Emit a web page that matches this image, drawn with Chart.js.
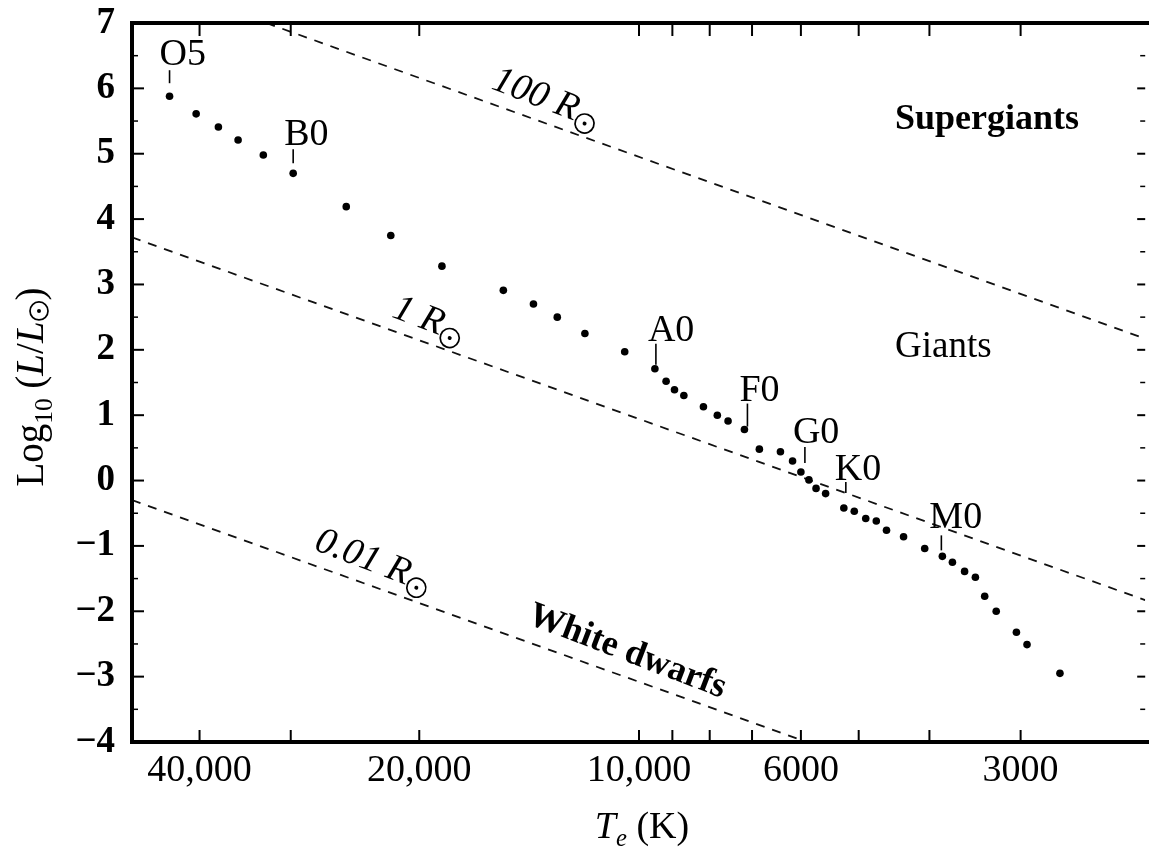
<!DOCTYPE html>
<html><head><meta charset="utf-8">
<script src="https://cdn.jsdelivr.net/npm/chart.js@4.4.1/dist/chart.umd.min.js"></script>
<style>html,body{margin:0;padding:0;background:#fff;overflow:hidden}#wrap{position:relative;width:1149px;height:849px}</style>
</head><body><div id="wrap"><canvas id="c"></canvas></div>
<script>
// Main-sequence stars: effective temperature (K) and log10(L/Lsun)
const temperatures = [43970, 40430, 37690, 35420, 32710, 29770, 25180, 21880, 18620, 15340, 13950, 12940, 11860, 10460, 9510, 9180, 8940, 8680, 8160, 7810, 7550, 7170, 6840, 6400, 6160, 6000, 5850, 5720, 5550, 5240, 5070, 4890, 4730, 4580, 4340, 4060, 3840, 3720, 3580, 3460, 3360, 3240, 3040, 2940, 2650];
const logLuminosity = [5.88, 5.61, 5.41, 5.21, 4.98, 4.70, 4.19, 3.75, 3.28, 2.91, 2.70, 2.50, 2.25, 1.97, 1.71, 1.52, 1.39, 1.30, 1.13, 1.00, 0.91, 0.78, 0.48, 0.44, 0.30, 0.13, 0.01, -0.12, -0.20, -0.42, -0.47, -0.58, -0.62, -0.76, -0.86, -1.04, -1.16, -1.25, -1.39, -1.48, -1.77, -2.00, -2.32, -2.51, -2.95];

// Spectral class markers (index into the star arrays)
const spectralLabels = ['O5', 'B0', 'A0', 'F0', 'G0', 'K0', 'M0'];
const spectralIndex = [0, 5, 14, 21, 25, 29, 36];

// Constant-radius lines (end points)
const line100R_T = [32400, 2025];
const line100R_L = [7.0, 2.17];
const line1R_T = [49500, 2025];
const line1R_L = [3.72, -1.83];
const line001R_T = [49500, 5890];
const line001R_L = [-0.30, -4.0];

// Axis ticks
const xTickValues = [40000, 30000, 20000, 10000, 9000, 8000, 7000, 6000, 5000, 4000, 3000];
const xTickLabels = ['40,000', '', '20,000', '10,000', '', '', '', '6000', '', '', '3000'];
const yTickValues = [-4, -3, -2, -1, 0, 1, 2, 3, 4, 5, 6, 7];

const SERIF = '"Liberation Serif", "Times New Roman", "DejaVu Serif", serif';

function pts(xs, ys) { return xs.map((x, i) => ({x: x, y: ys[i]})); }

function drawRich(ctx, x, y, angle, segs, size, align) {
  ctx.save();
  ctx.translate(x, y);
  ctx.rotate(angle);
  const items = segs.map(s => {
    if (s.sun) { const r = s.r || size * 0.25; return {s, r, w: 2 * r + 3}; }
    const fs = s.sub ? size * 0.65 : size;
    const font = (s.italic ? 'italic ' : '') + (s.bold ? 'bold ' : '') + fs + 'px ' + SERIF;
    ctx.font = font;
    return {s, font, w: ctx.measureText(s.t).width};
  });
  const total = items.reduce((a, b) => a + b.w, 0);
  let cx = align === 'center' ? -total / 2 : 0;
  ctx.fillStyle = '#000'; ctx.strokeStyle = '#000';
  ctx.textBaseline = 'alphabetic'; ctx.textAlign = 'left';
  for (const it of items) {
    if (it.s.sun) {
      const cy = -(it.s.dy !== undefined ? it.s.dy : 2);
      ctx.beginPath(); ctx.lineWidth = 1.7;
      ctx.arc(cx + 1.5 + it.r, cy, it.r, 0, Math.PI * 2); ctx.stroke();
      ctx.beginPath(); ctx.arc(cx + 1.5 + it.r, cy, 2, 0, Math.PI * 2); ctx.fill();
    } else {
      ctx.font = it.font;
      ctx.fillText(it.s.t, cx, it.s.sub ? size * 0.22 : 0);
    }
    cx += it.w;
  }
  ctx.restore();
}

const decorPlugin = {
  id: 'decor',
  afterDatasetsDraw(chart) {
    const ctx = chart.ctx, xs = chart.scales.x, ys = chart.scales.y, a = chart.chartArea;
    ctx.save();
    ctx.strokeStyle = '#000'; ctx.fillStyle = '#000';
    // frame
    ctx.lineWidth = 4;
    ctx.beginPath();
    ctx.moveTo(a.right + 5, a.top); ctx.lineTo(a.left, a.top); ctx.lineTo(a.left, a.bottom); ctx.lineTo(a.right + 5, a.bottom);
    ctx.stroke();
    // x ticks (top and bottom, inward)
    ctx.lineWidth = 2;
    for (const v of xTickValues) {
      const px = xs.getPixelForValue(v);
      ctx.beginPath(); ctx.moveTo(px, a.top); ctx.lineTo(px, a.top + 13); ctx.stroke();
      ctx.beginPath(); ctx.moveTo(px, a.bottom); ctx.lineTo(px, a.bottom - 12); ctx.stroke();
    }
    // y ticks (left and right, inward), majors and half-unit minors
    for (let i = 0; i < yTickValues.length; i++) {
      const v = yTickValues[i];
      const py = ys.getPixelForValue(v);
      ctx.lineWidth = 2;
      ctx.beginPath(); ctx.moveTo(a.left, py); ctx.lineTo(a.left + 12, py); ctx.stroke();
      ctx.beginPath(); ctx.moveTo(a.right, py); ctx.lineTo(a.right - 8, py); ctx.stroke();
      if (i < yTickValues.length - 1) {
        const pm = ys.getPixelForValue(v + 0.5);
        ctx.lineWidth = 1.5;
        ctx.beginPath(); ctx.moveTo(a.left, pm); ctx.lineTo(a.left + 6, pm); ctx.stroke();
        ctx.beginPath(); ctx.moveTo(a.right, pm); ctx.lineTo(a.right - 5, pm); ctx.stroke();
      }
    }
    // spectral class labels
    const offs = [
      {tt: -26, tb: -13, tdx: 0, dx: -10, dy: -31},
      {tt: -24, tb: -10, tdx: 0, dx: -9, dy: -28},
      {tt: -25, tb: -4, tdx: 1, dx: -7, dy: -28},
      {tt: -26, tb: -3, tdx: 3, dx: -5, dy: -29},
      {tt: -25, tb: -9, tdx: 4, dx: -8, dy: -29},
      {tt: -26, tb: -15, tdx: 2, dx: -9, dy: -28},
      {tt: -21, tb: -6, tdx: -1, dx: -13, dy: -28}
    ];
    ctx.font = '38px ' + SERIF; ctx.textAlign = 'left'; ctx.textBaseline = 'alphabetic';
    spectralLabels.forEach((lab, k) => {
      const i = spectralIndex[k];
      const px = xs.getPixelForValue(temperatures[i]);
      const py = ys.getPixelForValue(logLuminosity[i]);
      const o = offs[k];
      ctx.lineWidth = 1.6;
      ctx.beginPath(); ctx.moveTo(px + o.tdx, py + o.tb); ctx.lineTo(px + o.tdx, py + o.tt); ctx.stroke();
      ctx.fillText(lab, px + o.dx, py + o.dy);
    });
    // region labels
    ctx.font = 'bold 36px ' + SERIF;
    ctx.fillText('Supergiants', xs.getPixelForValue(4458), ys.getPixelForValue(5.38));
    ctx.font = '37px ' + SERIF;
    ctx.fillText('Giants', xs.getPixelForValue(4458), ys.getPixelForValue(1.89));
    // radius line labels
    const ang = 21 * Math.PI / 180;
    drawRich(ctx, xs.getPixelForValue(15990), ys.getPixelForValue(6.0), ang,
      [{t: '100', italic: true}, {t: ' ', italic: true}, {t: 'R', italic: true}, {sun: true, dy: 1}], 38, 'left');
    drawRich(ctx, xs.getPixelForValue(21880), ys.getPixelForValue(2.51), ang,
      [{t: '1', italic: true}, {t: ' ', italic: true}, {t: 'R', italic: true}, {sun: true, dy: 1}], 38, 'left');
    drawRich(ctx, xs.getPixelForValue(27960), ys.getPixelForValue(-1.05), ang,
      [{t: '0.01', italic: true}, {t: ' ', italic: true}, {t: 'R', italic: true}, {sun: true, dy: 1}], 38, 'left');
    drawRich(ctx, xs.getPixelForValue(14270), ys.getPixelForValue(-2.18), ang,
      [{t: 'White dwarfs', bold: true}], 36, 'left');
    ctx.restore();
    // axis titles
    drawRich(ctx, 43, 387, -Math.PI / 2,
      [{t: 'Log'}, {t: '10', sub: true}, {t: ' ('}, {t: 'L', italic: true}, {t: '/'}, {t: 'L', italic: true}, {sun: true, dy: 4, r: 9}, {t: ')'}], 39, 'center');
    drawRich(ctx, 642, 838, 0,
      [{t: 'T', italic: true}, {t: 'e', italic: true, sub: true}, {t: ' (K)'}], 38, 'center');
  }
};

new Chart(document.getElementById('c'), {
  type: 'scatter',
  data: {
    datasets: [
      {label: 'Main sequence', data: pts(temperatures, logLuminosity), backgroundColor: '#000', borderWidth: 0, pointRadius: 3.8, pointHoverRadius: 3.8},
      {label: '100 Rsun', type: 'line', data: pts(line100R_T, line100R_L), borderColor: '#111', borderWidth: 1.8, borderDash: [9, 8], pointRadius: 0, fill: false},
      {label: '1 Rsun', type: 'line', data: pts(line1R_T, line1R_L), borderColor: '#111', borderWidth: 1.8, borderDash: [9, 8], pointRadius: 0, fill: false},
      {label: '0.01 Rsun', type: 'line', data: pts(line001R_T, line001R_L), borderColor: '#111', borderWidth: 1.8, borderDash: [9, 8], pointRadius: 0, fill: false}
    ]
  },
  options: {
    responsive: true,
    maintainAspectRatio: false,
    animation: false,
    events: [],
    layout: {padding: {top: 23, left: 0, right: 0, bottom: 0}},
    plugins: {legend: {display: false}, tooltip: {enabled: false}, title: {display: false}},
    scales: {
      x: {
        type: 'logarithmic', reverse: true, min: 2025, max: 49500, bounds: 'data',
        afterBuildTicks: s => { s.ticks = xTickValues.map(v => ({value: v})); },
        afterFit: s => { s.height = 107; s.paddingLeft = 0; s.paddingRight = 0; s.paddingTop = 0; s.paddingBottom = 0; },
        grid: {display: false, drawTicks: false, tickLength: 0},
        border: {display: false},
        ticks: {
          autoSkip: false, maxRotation: 0, minRotation: 0, padding: 6, color: '#000',
          font: {family: SERIF, size: 38},
          callback: (v, i) => xTickLabels[i]
        }
      },
      y: {
        type: 'linear', min: -4, max: 7,
        afterBuildTicks: s => { s.ticks = yTickValues.map(v => ({value: v})); },
        afterFit: s => { s.width = 132; s.paddingTop = 0; s.paddingBottom = 0; s.paddingLeft = 0; s.paddingRight = 0; },
        grid: {display: false, drawTicks: false, tickLength: 0},
        border: {display: false},
        ticks: {
          padding: 17, color: '#000',
          font: {family: SERIF, size: 37, weight: 'bold'},
          callback: v => (v < 0 ? '\u2212' + Math.abs(v) : String(v))
        }
      }
    }
  },
  plugins: [decorPlugin]
});
</script>
</body></html>
